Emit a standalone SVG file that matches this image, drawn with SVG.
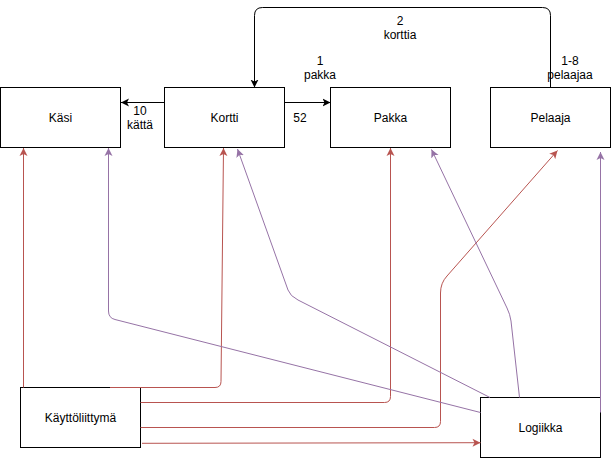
<svg xmlns="http://www.w3.org/2000/svg" width="611" height="458" viewBox="0 0 611 458">
<style>
.box{fill:#ffffff;stroke:#000000;stroke-width:1}
.t{font-family:"Liberation Sans",Arial,sans-serif;font-size:12px;fill:#000000;text-anchor:middle}
.e{fill:none;stroke-width:1}
.k{stroke:#000000}
.r{stroke:#b85450}
.p{stroke:#9673a6}
</style>
<defs>
<marker id="ak" markerUnits="userSpaceOnUse" markerWidth="9" markerHeight="9" refX="8" refY="4" orient="auto" viewBox="0 0 9 8"><path d="M8,4 L0,0 L2,4 L0,8 Z" fill="#000000"/></marker>
<marker id="ar" markerUnits="userSpaceOnUse" markerWidth="9" markerHeight="9" refX="8" refY="4" orient="auto" viewBox="0 0 9 8"><path d="M8,4 L0,0 L2,4 L0,8 Z" fill="#b85450"/></marker>
<marker id="ap" markerUnits="userSpaceOnUse" markerWidth="9" markerHeight="9" refX="8" refY="4" orient="auto" viewBox="0 0 9 8"><path d="M8,4 L0,0 L2,4 L0,8 Z" fill="#9673a6"/></marker>
</defs>
<g id="kasi"><rect class="box" x="0.5" y="87.5" width="120" height="60"/><text class="t" x="60.5" y="121.5">Käsi</text></g>
<g id="kortti"><rect class="box" x="164.5" y="87.5" width="120" height="60"/><text class="t" x="224.5" y="121.5">Kortti</text></g>
<g id="pakka"><rect class="box" x="330.5" y="87.5" width="120" height="60"/><text class="t" x="390.5" y="121.5">Pakka</text></g>
<g id="pelaaja"><rect class="box" x="490.5" y="87.5" width="120" height="60"/><text class="t" x="550.5" y="121.5">Pelaaja</text></g>
<g id="kayttoliittyma"><rect class="box" x="20.5" y="387.5" width="120" height="60"/><text class="t" x="80.5" y="421.5">Käyttöliittymä</text></g>
<g id="logiikka"><rect class="box" x="480.5" y="397.5" width="120" height="60"/><text class="t" x="540.5" y="431.5">Logiikka</text></g>
<g id="connectors">
<path class="e k" d="M164.5,102.5 L121,102.5" marker-end="url(#ak)"/>
<path class="e k" d="M284.5,102.5 L330.5,102.5" marker-end="url(#ak)"/>
<path class="e k" d="M550.5,87.5 L550.5,15.5 Q550.5,7.5 542.5,7.5 L262.5,7.5 Q254.5,7.5 254.5,15.5 L254.5,87.5" marker-end="url(#ak)"/>
<path class="e r" d="M23.5,387.5 L23.5,148" marker-end="url(#ar)"/>
<path class="e r" d="M110,387.5 L215,387.5 Q221,387.5 221,381.5 L223.5,148" marker-end="url(#ar)"/>
<path class="e r" d="M140.5,402.5 L384.5,402.5 Q390.5,402.5 390.5,396.5 L390.5,148" marker-end="url(#ar)"/>
<path class="e r" d="M140.5,427.5 L434.5,427.5 Q440.5,427.5 440.5,421.5 L440.5,293 Q440.5,283 447,276 L557.5,150.5" marker-end="url(#ar)"/>
<path class="e r" d="M142,443.3 L480.5,442.7" marker-end="url(#ar)"/>
<path class="e p" d="M480.5,412.5 L115,319.5 Q108.5,318 108.5,311 L108.5,148" marker-end="url(#ap)"/>
<path class="e p" d="M490,397.5 L298,300 Q290,296 288,290 L237.5,149" marker-end="url(#ap)"/>
<path class="e p" d="M519.5,397.5 L511,321 Q510,314 507,308 L431.5,149.5" marker-end="url(#ap)"/>
<path class="e p" d="M600.5,412.5 L600.5,152" marker-end="url(#ap)"/>
<text class="t" x="140" y="114.5">10</text>
<text class="t" x="140" y="128.5">kättä</text>
<text class="t" x="300" y="122">52</text>
<text class="t" x="320" y="65">1</text>
<text class="t" x="320" y="79">pakka</text>
<text class="t" x="400" y="25">2</text>
<text class="t" x="400" y="39">korttia</text>
<text class="t" x="570" y="65">1-8</text>
<text class="t" x="570" y="79">pelaajaa</text>
</g>
</svg>
